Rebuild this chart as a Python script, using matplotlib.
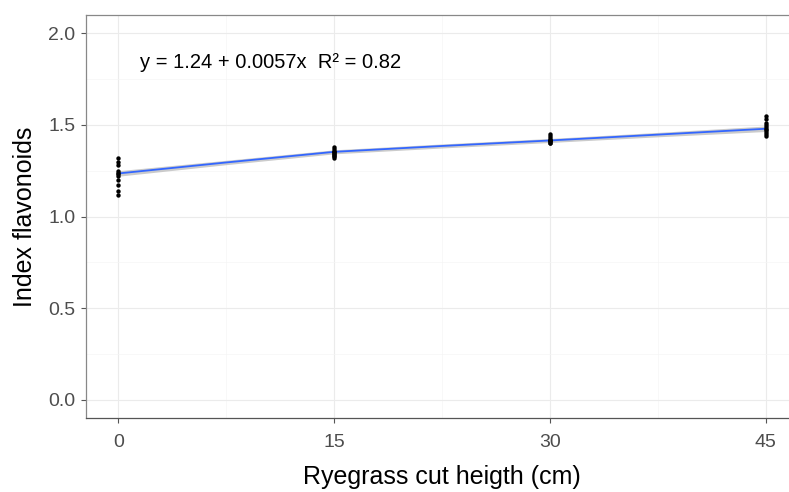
import numpy as np
import matplotlib.pyplot as plt
from matplotlib.ticker import MultipleLocator

plt.rcParams['font.family'] = ['Liberation Sans', 'DejaVu Sans']

# cut heights (cm) and flavonoid index readings
cut_0 = [1.32, 1.30, 1.28, 1.25, 1.24, 1.23, 1.22, 1.20, 1.17, 1.14, 1.12]
cut_15 = [1.38, 1.37, 1.36, 1.35, 1.35, 1.34, 1.34, 1.33, 1.33, 1.32]
cut_30 = [1.45, 1.44, 1.43, 1.42, 1.42, 1.41, 1.41, 1.40, 1.40]
cut_45 = [1.55, 1.53, 1.51, 1.50, 1.49, 1.48, 1.47, 1.46, 1.45, 1.44]
heights = [0, 15, 30, 45]

# fitted curve
fit_x = [0, 7.5, 15, 22.5, 30, 37.5, 45]
fit_y = [1.235, 1.295, 1.353, 1.385, 1.415, 1.447, 1.479]
fit_se = [0.015, 0.012, 0.011, 0.011, 0.011, 0.012, 0.015]

fig = plt.figure(figsize=(7.89, 4.92), dpi=100)
ax = fig.add_axes([86/789, 74/492, 712/789, 403/492])

fy = np.array(fit_y)
se = np.array(fit_se)
ax.fill_between(fit_x, fy - se, fy + se, color='#BEBEBE', alpha=0.8, lw=0, zorder=2)
ax.plot(fit_x, fit_y, color='#3366FF', lw=1.3, zorder=3)

for h, vals in zip(heights, [cut_0, cut_15, cut_30, cut_45]):
    ax.scatter([h] * len(vals), vals, s=10, color='black', zorder=4, lw=0)

ax.text(1.5, 1.84, 'y = 1.24 + 0.0057x  R\u00b2 = 0.82', fontsize=14.5,
        va='center', ha='left', color='black')

ax.set_xlim(-2.25, 47.25)
ax.set_ylim(-0.1, 2.1)
ax.set_xticks(heights)
ax.set_yticks([0.0, 0.5, 1.0, 1.5, 2.0])
ax.set_yticklabels(['0.0', '0.5', '1.0', '1.5', '2.0'])
ax.xaxis.set_minor_locator(MultipleLocator(7.5))
ax.yaxis.set_minor_locator(MultipleLocator(0.25))
ax.grid(True, which='major', color='#EBEBEB', lw=0.8, zorder=0)
ax.grid(True, which='minor', color='#F5F5F5', lw=0.5, zorder=0)
ax.set_axisbelow(True)
ax.tick_params(which='minor', length=0)
ax.tick_params(which='major', length=3.5, color='#555555', labelsize=14,
               labelcolor='#4D4D4D', pad=4)
ax.tick_params(axis='x', pad=8)
for s in ax.spines.values():
    s.set_color('#888888')
    s.set_linewidth(0.9)
ax.spines['bottom'].set_color('#555555')

ax.set_xlabel('Ryegrass cut heigth (cm)', fontsize=18, labelpad=10)
ax.set_ylabel('Index flavonoids', fontsize=18, labelpad=8)

fig.savefig('out.png', dpi=100)
